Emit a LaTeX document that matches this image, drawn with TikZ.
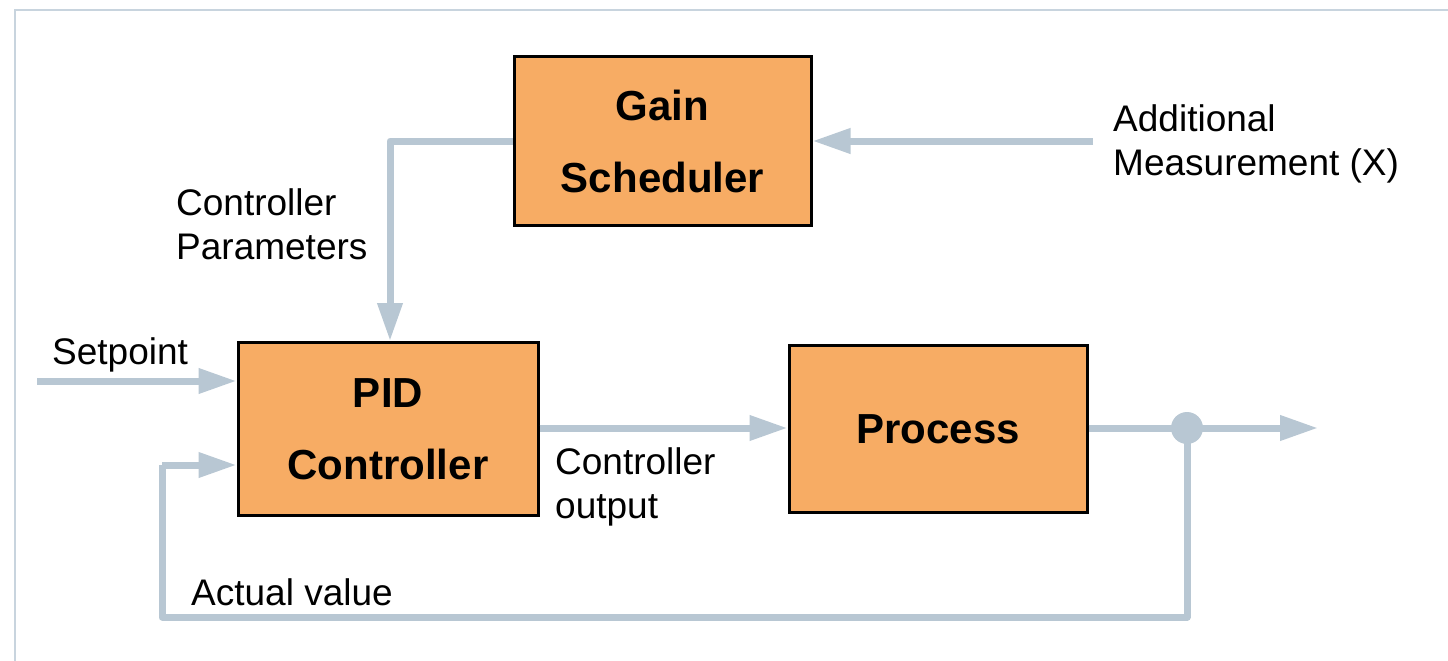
\documentclass[tikz,border=0pt]{standalone}
\usepackage{fontspec}
\setmainfont{Liberation Sans}
\usetikzlibrary{arrows.meta}
\definecolor{wirecol}{RGB}{184,199,211}
\definecolor{blockfill}{RGB}{247,172,100}
\definecolor{framecol}{RGB}{200,212,222}
\begin{document}
\begin{tikzpicture}[x=1pt,y=-1pt,
  block/.style={draw=black,line width=3pt,fill=blockfill,inner sep=0pt,
    font=\fontsize{42}{72}\selectfont\bfseries,align=center},
  lbl/.style={inner sep=0pt,font=\fontsize{37}{44}\selectfont,align=left,anchor=west},
  wire/.style={draw=wirecol,line width=7pt,line join=round},
  flow/.style={wire,-{Triangle[length=38pt,width=24pt]}}]
\useasboundingbox (0,0) rectangle (1448,661);

% outer frame
\draw[framecol,line width=1.5pt] (15,661) -- (15,10) -- (1448,10);

% blocks
\node[block,minimum width=297pt,minimum height=168pt] (gs) at (662.5,141) {Gain\\Scheduler};
\node[block,minimum width=300pt,minimum height=173pt] (pid) at (388,429) {PID\\Controller};
\node[block,minimum width=298pt,minimum height=167pt] (proc) at (938,429) {Process};

% free ends and corners
\coordinate (xin) at (1093,141);
\coordinate (cp) at (390,141);
\coordinate (sp) at (37,381);
\coordinate (j) at (1187,428);
\coordinate (out) at (1318,428);
\coordinate (fbr) at (1187,617);
\coordinate (fbl) at (162,617);
\coordinate (fb) at (162,465);

% connectors
\draw[flow] (xin) -- (xin -| gs.east);
\draw[flow] (cp -| gs.west) -- (cp) -- (cp |- pid.north);
\draw[flow] (sp) -- (sp -| pid.west);
\draw[flow] (j -| pid.east) -- (j -| proc.west);
\draw[flow] (j -| proc.east) -- (out);
\draw[wire] (j) -- (fbr) -- (fbl) -- (fb);
\draw[flow] (fb) -- (fb -| pid.west);
\fill[wirecol] (j) circle (16);

% labels
\node[lbl] (addm) at (1113,144) {Additional\\Measurement (X)};
\node[lbl] (cpar) at (176,224) {Controller\\Parameters};
\node[lbl] (setp) at (52,355) {Setpoint};
\node[lbl] (cout) at (555,487) {Controller\\output};
\node[lbl] (actv) at (191,592) {Actual value};
\end{tikzpicture}
\end{document}
